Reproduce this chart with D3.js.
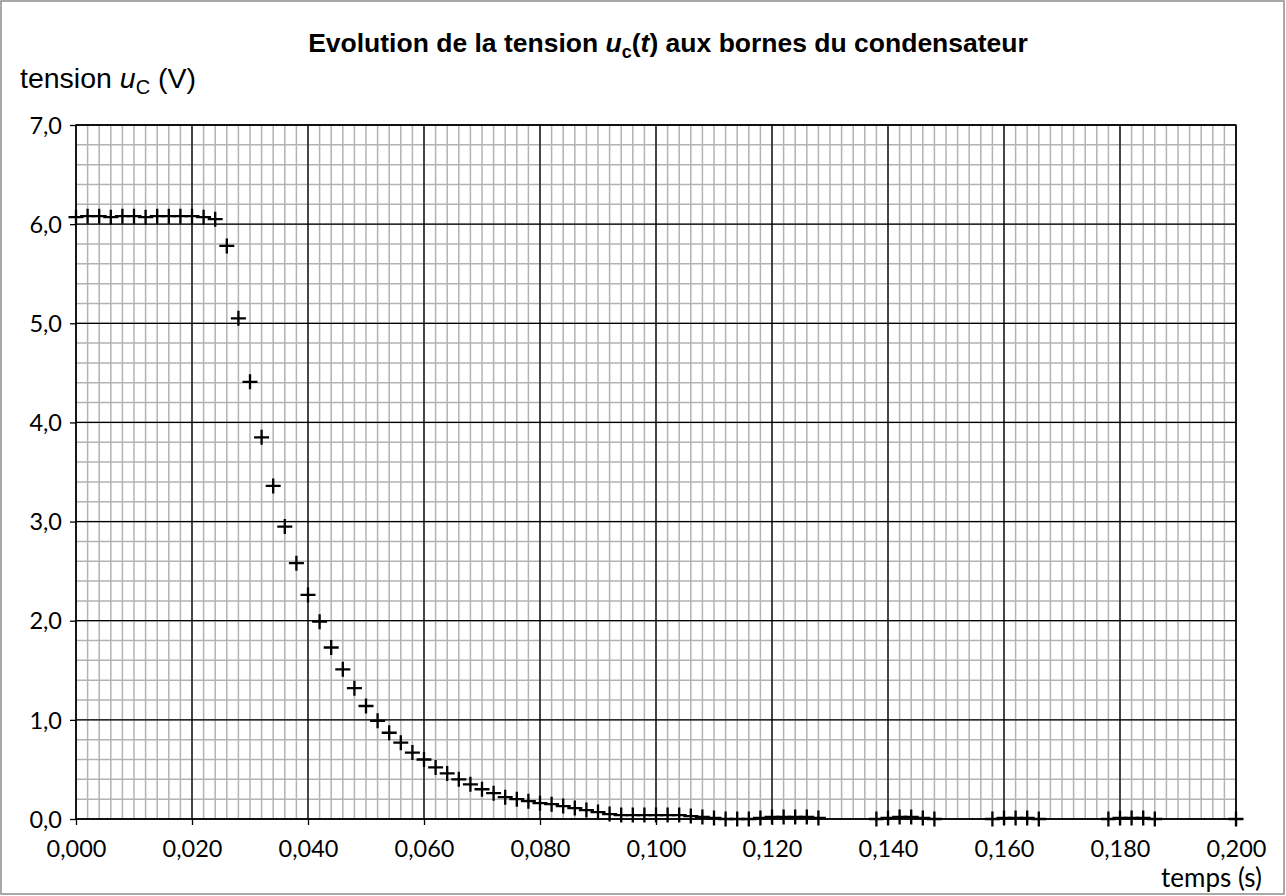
<!DOCTYPE html>
<html>
<head>
<meta charset="utf-8">
<script src="https://cdn.jsdelivr.net/npm/d3@7"></script>
<style>
  body { margin: 0; background: #fff; }
  svg { display: block; }
</style>
</head>
<body>
<div id="viz"></div>
<script>
// measured points : t (s) and u_C (V)
var temps = [0.000, 0.002, 0.004, 0.006, 0.008, 0.010, 0.012, 0.014, 0.016, 0.018, 0.020, 0.022, 0.024,
             0.026, 0.028, 0.030, 0.032, 0.034, 0.036, 0.038, 0.040, 0.042, 0.044, 0.046, 0.048,
             0.050, 0.052, 0.054, 0.056, 0.058, 0.060, 0.062, 0.064, 0.066, 0.068, 0.070, 0.072,
             0.074, 0.076, 0.078, 0.080, 0.082, 0.084, 0.086, 0.088, 0.090, 0.092, 0.094, 0.096,
             0.098, 0.100, 0.102, 0.104, 0.106, 0.108, 0.110, 0.112, 0.114, 0.116, 0.118, 0.120,
             0.122, 0.124, 0.126, 0.128,
             0.138, 0.140, 0.142, 0.144, 0.146, 0.148,
             0.158, 0.160, 0.162, 0.164, 0.166,
             0.178, 0.180, 0.182, 0.184, 0.186,
             0.200];
var tension = [6.07, 6.08, 6.08, 6.07, 6.08, 6.08, 6.07, 6.08, 6.08, 6.08, 6.08, 6.07, 6.05,
               5.78, 5.05, 4.41, 3.85, 3.36, 2.95, 2.58, 2.26, 1.99, 1.73, 1.51, 1.32,
               1.14, 0.99, 0.87, 0.77, 0.67, 0.60, 0.52, 0.46, 0.40, 0.35, 0.30, 0.26,
               0.22, 0.20, 0.18, 0.16, 0.15, 0.13, 0.11, 0.09, 0.07, 0.05, 0.04, 0.04,
               0.04, 0.04, 0.04, 0.04, 0.03, 0.02, 0.01, 0.00, 0.00, 0.00, 0.01, 0.02,
               0.02, 0.02, 0.02, 0.01,
               0.00, 0.01, 0.02, 0.02, 0.01, 0.00,
               0.00, 0.01, 0.01, 0.01, 0.00,
               0.00, 0.01, 0.01, 0.01, 0.00,
               0.00];

var xTicks = [0, 0.02, 0.04, 0.06, 0.08, 0.10, 0.12, 0.14, 0.16, 0.18, 0.20];
var yTicks = [0, 1, 2, 3, 4, 5, 6, 7];

var w = 1286, h = 896;
var margin = {top: 125, right: 50, bottom: 77, left: 76};

var svg = d3.select("#viz").append("svg")
            .attr("width", w)
            .attr("height", h);

// outer frame
svg.append("rect")
   .attr("x", 1).attr("y", 1)
   .attr("width", w - 3).attr("height", h - 3)
   .attr("fill", "#fff")
   .attr("stroke", "#8c8c8c")
   .attr("stroke-width", 1.5);

var x = d3.scaleLinear().domain([0, 0.2]).range([margin.left, w - margin.right]);
var y = d3.scaleLinear().domain([0, 7]).range([h - margin.bottom, margin.top]);

var comma = function(v, n) { return v.toFixed(n).replace(".", ","); };

// minor grid
var minorX = d3.range(0, 101).map(function(i) { return i * 0.002; });
var minorY = d3.range(0, 36).map(function(i) { return i * 0.2; });

var grid = svg.append("g");
grid.selectAll("line.mx")
    .data(minorX)
    .enter().append("line")
    .attr("x1", function(d) { return x(d); })
    .attr("x2", function(d) { return x(d); })
    .attr("y1", y(0)).attr("y2", y(7))
    .attr("stroke", "#b3b3b3").attr("stroke-width", 1.5);
grid.selectAll("line.my")
    .data(minorY)
    .enter().append("line")
    .attr("y1", function(d) { return y(d); })
    .attr("y2", function(d) { return y(d); })
    .attr("x1", x(0)).attr("x2", x(0.2))
    .attr("stroke", "#b3b3b3").attr("stroke-width", 1.5);

// major grid
grid.selectAll("line.Mx")
    .data(xTicks)
    .enter().append("line")
    .attr("x1", function(d) { return x(d); })
    .attr("x2", function(d) { return x(d); })
    .attr("y1", y(0)).attr("y2", y(7))
    .attr("stroke", "#000").attr("stroke-width", 1.3);
grid.selectAll("line.My")
    .data(yTicks)
    .enter().append("line")
    .attr("y1", function(d) { return y(d); })
    .attr("y2", function(d) { return y(d); })
    .attr("x1", x(0)).attr("x2", x(0.2))
    .attr("stroke", "#000").attr("stroke-width", 1.3);

// axes
var xAxis = d3.axisBottom(x).tickValues(xTicks).tickSize(6).tickPadding(15)
              .tickFormat(function(d) { return comma(d, 3); });
var yAxis = d3.axisLeft(y).tickValues(yTicks).tickSize(6).tickPadding(8)
              .tickFormat(function(d) { return comma(d, 1); });

var gx = svg.append("g")
   .attr("transform", "translate(0," + y(0) + ")")
   .call(xAxis);
var gy = svg.append("g")
   .attr("transform", "translate(" + x(0) + ",0)")
   .call(yAxis);

[gx, gy].forEach(function(g) {
  g.select(".domain").remove();
  g.selectAll(".tick line").attr("stroke", "#000").attr("stroke-width", 1.3);
  g.selectAll(".tick text")
   .attr("fill", "#000")
   .style("font-family", "Lato, 'Open Sans', sans-serif")
   .style("font-size", "23.5px");
});
gy.selectAll(".tick text").attr("dy", "0.35em");

// plot frame
svg.append("rect")
   .attr("x", x(0)).attr("y", y(7))
   .attr("width", x(0.2) - x(0)).attr("height", y(0) - y(7))
   .attr("fill", "none").attr("stroke", "#000").attr("stroke-width", 1.3);

// markers
var pts = temps.map(function(t, i) { return {t: t, u: tension[i]}; });
var s = 7.5;
var marks = svg.append("g").attr("stroke", "#000").attr("stroke-width", 2.3);
marks.selectAll("path")
     .data(pts)
     .enter().append("path")
     .attr("d", function(d) {
        var cx = x(d.t), cy = y(d.u);
        return "M" + (cx - s) + "," + cy + "H" + (cx + s) + "M" + cx + "," + (cy - s) + "V" + (cy + s);
     });

// title
var title = svg.append("text")
   .attr("x", 668).attr("y", 52)
   .attr("text-anchor", "middle")
   .style("font-family", "'Liberation Sans', Arial, sans-serif")
   .style("font-size", "26.5px")
   .style("font-weight", "bold");
title.append("tspan").text("Evolution de la tension ");
title.append("tspan").style("font-style", "italic").text("u");
title.append("tspan").attr("dy", 6).style("font-size", "18px").text("c");
title.append("tspan").attr("dy", -6).text("(");
title.append("tspan").style("font-style", "italic").text("t");
title.append("tspan").text(") aux bornes du condensateur");

// y axis label
var ylab = svg.append("text")
   .attr("x", 20).attr("y", 88)
   .style("font-family", "'Liberation Sans', Arial, sans-serif")
   .style("font-size", "28.5px");
ylab.append("tspan").text("tension ");
ylab.append("tspan").style("font-style", "italic").text("u");
ylab.append("tspan").attr("dy", 6).style("font-size", "20px").text("C");
ylab.append("tspan").attr("dy", -6).text(" (V)");

// x axis label
svg.append("text")
   .attr("x", 1262).attr("y", 887)
   .attr("text-anchor", "end")
   .style("font-family", "Lato, 'Open Sans', sans-serif")
   .style("font-size", "26px")
   .text("temps (s)");
</script>
</body>
</html>
